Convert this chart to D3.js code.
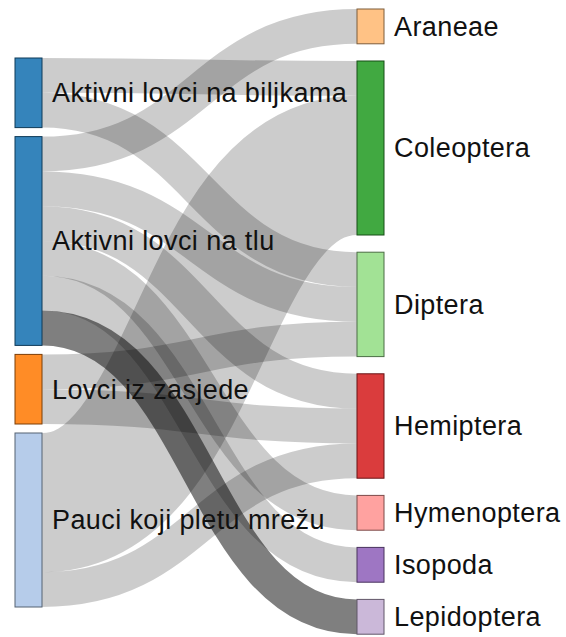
<!DOCTYPE html>
<html>
<head>
<meta charset="utf-8">
<script src="https://cdnjs.cloudflare.com/ajax/libs/d3/7.8.5/d3.min.js"></script>
<style>
    body { margin: 0; background: #fff; }
    .link { fill: none; stroke: #000; stroke-opacity: 0.2; }
    .link.hl { stroke-opacity: 0.5; }
    .node rect { fill-opacity: 0.9; }
    .node text {
        font-family: "Liberation Sans", Arial, sans-serif;
        font-size: 27px;
        letter-spacing: 0.4px;
        fill: #111;
    }
</style>
</head>
<body>
<svg id="chart" width="566" height="637"></svg>
<script>
    // predator groups (left) and prey orders (right)
    const sources = ["Aktivni lovci na biljkama", "Aktivni lovci na tlu", "Lovci iz zasjede", "Pauci koji pletu mrežu"];
    const targets = ["Araneae", "Coleoptera", "Diptera", "Hemiptera", "Hymenoptera", "Isopoda", "Lepidoptera"];
    const sourceColors = ["#1f77b4", "#1f77b4", "#ff7f0e", "#aec7e8"];
    const targetColors = ["#ffbb78", "#2ca02c", "#98df8a", "#d62728", "#ff9896", "#9467bd", "#c5b0d5"];

    // links: index into sources -> index into targets
    const linkSource = [0, 0, 1, 1, 1, 1, 1, 1, 2, 2, 3, 3];
    const linkTarget = [1, 2, 0, 2, 3, 4, 5, 6, 2, 3, 1, 3];
    const linkValue  = [1, 1, 1, 1, 1, 1, 1, 1, 1, 1, 4, 1];
    const highlighted = [1, 6]; // Aktivni lovci na tlu -> Lepidoptera

    const svg = d3.select("#chart");
    const nodeWidth = 27;
    const ky = d3.scaleLinear().domain([0, 1]).range([0, 34.8]);
    const xCol = d3.scaleLinear().domain([0, 1]).range([15, 357]);
    const colTop = [58, 9];
    const colPad = [9, 17.2];

    const links = linkSource.map((s, i) => ({ s, t: linkTarget[i], value: linkValue[i] }));

    function makeNodes(names, colors, col, key) {
        let y = colTop[col];
        return names.map((name, i) => {
            const value = d3.sum(links.filter(l => l[key] === i), l => l.value);
            const n = { name, color: colors[i], x0: xCol(col), y0: y, h: ky(value) };
            y += n.h + colPad[col];
            return n;
        });
    }
    const srcNodes = makeNodes(sources, sourceColors, 0, "s");
    const tgtNodes = makeNodes(targets, targetColors, 1, "t");

    // stack links at each end
    srcNodes.forEach((n, i) => {
        let y = n.y0;
        links.filter(l => l.s === i).sort((a, b) => a.t - b.t).forEach(l => {
            l.w = ky(l.value); l.sy = y + l.w / 2; y += l.w;
        });
    });
    tgtNodes.forEach((n, i) => {
        let y = n.y0;
        links.filter(l => l.t === i).sort((a, b) => a.s - b.s).forEach(l => {
            l.ty = y + ky(l.value) / 2; y += ky(l.value);
        });
    });

    const linkPath = d3.linkHorizontal()
        .source(l => [xCol(0) + nodeWidth, l.sy])
        .target(l => [xCol(1), l.ty]);

    svg.append("g")
        .selectAll("path")
        .data(links)
        .join("path")
        .attr("class", l => (l.s === highlighted[0] && l.t === highlighted[1]) ? "link hl" : "link")
        .attr("d", linkPath)
        .attr("stroke-width", l => l.w);

    const node = svg.append("g")
        .selectAll("g")
        .data(srcNodes.concat(tgtNodes))
        .join("g")
        .attr("class", "node");

    node.append("rect")
        .attr("x", d => d.x0)
        .attr("y", d => d.y0)
        .attr("width", nodeWidth)
        .attr("height", d => d.h)
        .attr("fill", d => d.color)
        .attr("stroke", d => d3.rgb(d.color).darker(2))
        .attr("stroke-width", 1);

    node.append("text")
        .attr("x", d => d.x0 + nodeWidth + 10)
        .attr("y", d => d.y0 + d.h / 2)
        .attr("dy", "0.35em")
        .text(d => d.name);
</script>
</body>
</html>
